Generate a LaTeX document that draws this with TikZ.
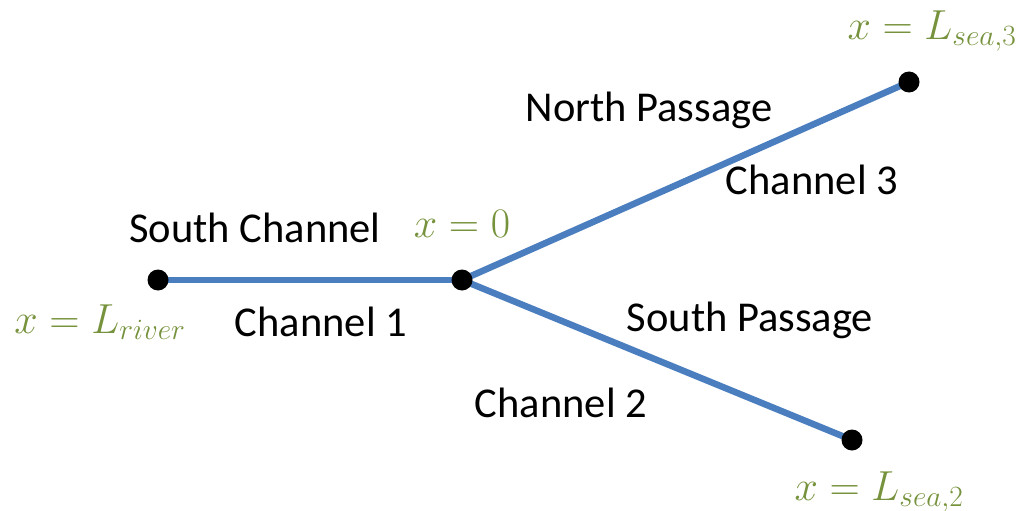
\RequirePackage{fix-cm}
\documentclass[tikz,border=0pt]{standalone}
\usepackage{fontspec}
\setmainfont{Carlito}
\definecolor{chan}{RGB}{74,126,190}
\definecolor{olive}{RGB}{118,146,60}
\tikzset{
  chanline/.style={draw=chan, line width=6.5pt},
  junction/.style={circle, fill=black, inner sep=0pt, minimum size=21pt},
  lbl/.style={font=\fontsize{42.5}{46}\selectfont, inner sep=0pt},
  posnote/.style={font=\fontsize{42}{46}\selectfont, text=olive, inner sep=0pt}
}
\begin{document}
\begin{tikzpicture}[x=1pt,y=-1pt]
\useasboundingbox (0,0) rectangle (1036,511);
% junction coordinates
\coordinate (river) at (158,280);
\coordinate (mid) at (462,280);
\coordinate (sea3) at (909,82);
\coordinate (sea2) at (852,440);
% channels
\draw[chanline] (river) -- (mid);
\draw[chanline] (mid) -- (sea3);
\draw[chanline] (mid) -- (sea2);
% end points and junction
\node[junction] (driver) at (river) {};
\node[junction] (dmid) at (mid) {};
\node[junction] (dsea3) at (sea3) {};
\node[junction] (dsea2) at (sea2) {};
% channel names
\node[lbl] (sc) at (255,228) {South Channel};
\node[lbl] (c1) at (321,322) {Channel 1};
\node[lbl] (np) at (649,110) {North Passage};
\node[lbl] (c3) at (812,180) {Channel 3};
\node[lbl] (sp) at (750,320) {South Passage};
\node[lbl] (c2) at (561,403) {Channel 2};
% positions along the network
\node[posnote] (x0) at (462,224) {$x=0$};
\node[posnote] (xr) at (100,322) {$x=L_{river}$};
\node[posnote] (x3) at (932,31) {$x=L_{sea,3}$};
\node[posnote] (x2) at (879,492) {$x=L_{sea,2}$};
\end{tikzpicture}
\end{document}
